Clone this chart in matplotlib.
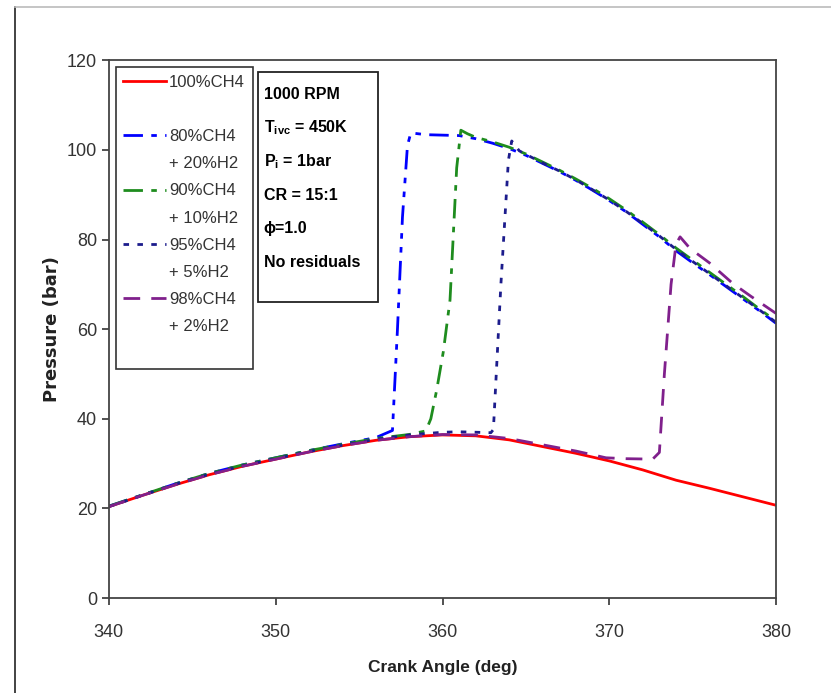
import matplotlib
matplotlib.use("Agg")
import matplotlib.pyplot as plt
from matplotlib.lines import Line2D
from matplotlib.patches import Rectangle

# ── Data ──────────────────────────────────────────────────────────────────────

theta_ch4 = [340, 342, 344, 346, 348, 350, 352, 354, 356, 358, 360,
             362, 364, 366, 368, 370, 372, 374, 376, 378, 380]
p_ch4 = [20.4, 22.9, 25.3, 27.5, 29.4, 31.0, 32.6, 34.0, 35.2, 36.0, 36.4,
         36.2, 35.3, 33.8, 32.3, 30.6, 28.6, 26.3, 24.5, 22.6, 20.7]

theta_h20 = [340, 342, 344, 346, 348, 350, 352, 354, 356, 357.0, 357.3, 357.6,
             357.9, 358.1, 359, 360, 361, 362, 363, 364, 365, 366, 367, 368,
             369, 370, 371, 372, 373, 374, 375, 376, 377, 378, 379, 380]
p_h20 = [20.5, 23.0, 25.5, 27.8, 29.7, 31.3, 32.9, 34.4, 35.8, 37.4, 60.0, 85.0,
         101.0, 103.8, 103.4, 103.3, 103.2, 102.5, 101.5, 100.3, 98.8, 97.0, 95.2, 93.2,
         91.0, 88.7, 86.2, 83.4, 80.6, 77.5, 74.8, 72.2, 69.5, 66.8, 64.1, 61.3]

theta_h10 = [340, 342, 344, 346, 348, 350, 352, 354, 356, 358, 359.0, 359.3, 359.65,
             360.05, 360.45, 360.85, 361.1, 361.5, 362, 363, 364, 365, 366, 367, 368,
             369, 370, 371, 372, 373, 374, 375, 376, 377, 378, 379, 380]
p_h10 = [20.5, 23.0, 25.5, 27.8, 29.7, 31.3, 32.9, 34.3, 35.6, 36.5, 37.3, 40.0, 46.4,
         55.0, 66.5, 96.0, 104.4, 103.6, 102.8, 101.8, 100.6, 99.1, 97.3, 95.5, 93.5,
         91.4, 89.1, 86.6, 83.9, 81.1, 78.1, 75.4, 72.7, 70.0, 67.3, 64.5, 61.8]

theta_h5 = [340, 342, 344, 346, 348, 350, 352, 354, 356, 358, 360, 361, 362, 362.9,
            363.05, 363.5, 363.95, 364.15, 364.6, 365, 366, 367, 368, 369, 370, 371,
            372, 373, 374, 375, 376, 377, 378, 379, 380]
p_h5 = [20.4, 22.9, 25.4, 27.6, 29.5, 31.1, 32.7, 34.1, 35.4, 36.4, 37.0, 37.1, 37.0,
        36.9, 37.6, 70.0, 97.7, 102.0, 99.8, 99.0, 97.1, 95.3, 93.3, 91.1, 88.8, 86.3,
        83.6, 80.8, 77.8, 75.1, 72.4, 69.7, 67.0, 64.3, 61.5]

theta_h2 = [340, 342, 344, 346, 348, 350, 352, 354, 356, 358, 360, 362, 364, 366, 368,
            369.8, 371, 372.6, 373.0, 373.3, 373.7, 374.0, 374.24, 374.84, 376, 377.4,
            378.5, 380]
p_h2 = [20.4, 22.9, 25.3, 27.5, 29.4, 31.0, 32.6, 34.0, 35.2, 36.0, 36.5, 36.4, 35.6,
        34.2, 32.8, 31.3, 31.1, 31.0, 32.5, 50.0, 70.0, 79.0, 80.6, 78.0, 74.8, 70.2,
        67.3, 63.5]

# legend rows: (name, continuation line)
labels = [("100%CH4", ""), ("80%CH4", "+ 20%H2"), ("90%CH4", "+ 10%H2"),
          ("95%CH4", "+ 5%H2"), ("98%CH4", "+ 2%H2")]
conditions = ["1000 RPM", r"T$_{\mathbf{ivc}}$ = 450K", r"P$_{\mathbf{i}}$ = 1bar",
              "CR = 15:1", "ϕ=1.0", "No residuals"]
x_ticks = [340, 350, 360, 370, 380]
y_ticks = [0, 20, 40, 60, 80, 100, 120]

# ── Style ─────────────────────────────────────────────────────────────────────

plt.rcParams["font.family"] = ["Liberation Sans", "DejaVu Sans"]
plt.rcParams["mathtext.fontset"] = "custom"
plt.rcParams["mathtext.rm"] = "Liberation Sans"
plt.rcParams["mathtext.bf"] = "Liberation Sans:bold"

series = [
    (theta_ch4, p_ch4, dict(color="#FF0000", lw=2.0, linestyle="-", zorder=1.5)),
    (theta_h20, p_h20, dict(color="#0000FF", lw=2.0, dashes=(7, 3, 2, 3, 2, 3))),
    (theta_h10, p_h10, dict(color="#1E8C1E", lw=2.0, dashes=(7, 3, 2, 3))),
    (theta_h5, p_h5, dict(color="#1C1C8C", lw=2.0, dashes=(2, 3))),
    (theta_h2, p_h2, dict(color="#80208C", lw=2.0, dashes=(6, 4))),
]

fig = plt.figure(figsize=(8.31, 6.93), dpi=100)
fig.patch.set_facecolor("white")
ax = fig.add_axes([0.131, 0.137, 0.803, 0.776])

lines = [ax.plot(th, p, **st)[0] for th, p, st in series]

ax.set_xlim(340, 380)
ax.set_ylim(0, 120)
ax.set_xticks(x_ticks)
ax.set_yticks(y_ticks)
ax.tick_params(direction="out", length=5, width=1.2, colors="#333333",
               labelsize=13, labelcolor="#333333")
ax.tick_params(axis="x", pad=14)
for sp in ax.spines.values():
    sp.set_color("#444444")
    sp.set_linewidth(1.3)

ax.set_xlabel("Crank Angle (deg)", fontsize=12.5, fontweight="bold",
              color="#222222", labelpad=13)
ax.set_ylabel("Pressure (bar)", fontsize=13, fontweight="bold",
              family="DejaVu Sans", color="#222222", labelpad=4)

# legend: one row per text line, the sample sits on the first line
blank = Line2D([], [], linestyle="none")
leg_h, leg_t = [], []
for ln, (name, extra) in zip(lines, labels):
    leg_h += [ln, blank]
    leg_t += [name, extra]
leg_h.append(blank)
leg_t.append("")
leg = ax.legend(leg_h, leg_t, loc="upper left", bbox_to_anchor=(0.0105, 0.987),
                borderaxespad=0, fancybox=False, edgecolor="#333333",
                framealpha=1, fontsize=12, handlelength=2.55, handletextpad=0.2,
                labelspacing=0.73, borderpad=0.45)
leg.get_frame().set_linewidth(1.2)
for t in leg.get_texts():
    t.set_color("#333333")

# conditions box
ax.add_patch(Rectangle((0.223, 0.55), 0.18, 0.4275, transform=ax.transAxes,
                       fill=False, edgecolor="#222222", lw=1.3, zorder=5))
for i, s in enumerate(conditions):
    ax.text(0.232, 0.937 - i * 0.0625, s, transform=ax.transAxes,
            fontsize=11.5, fontweight="bold", va="center", ha="left", zorder=6)

# page border of the original screenshot
fig.add_artist(Line2D([15 / 831, 15 / 831], [0, 1 - 7 / 693], color="#222222", lw=1.2))
fig.add_artist(Line2D([15 / 831, 1], [1 - 7 / 693, 1 - 7 / 693], color="#BBBBBB", lw=1.2))

fig.savefig("out.png", dpi=100, facecolor="white")
